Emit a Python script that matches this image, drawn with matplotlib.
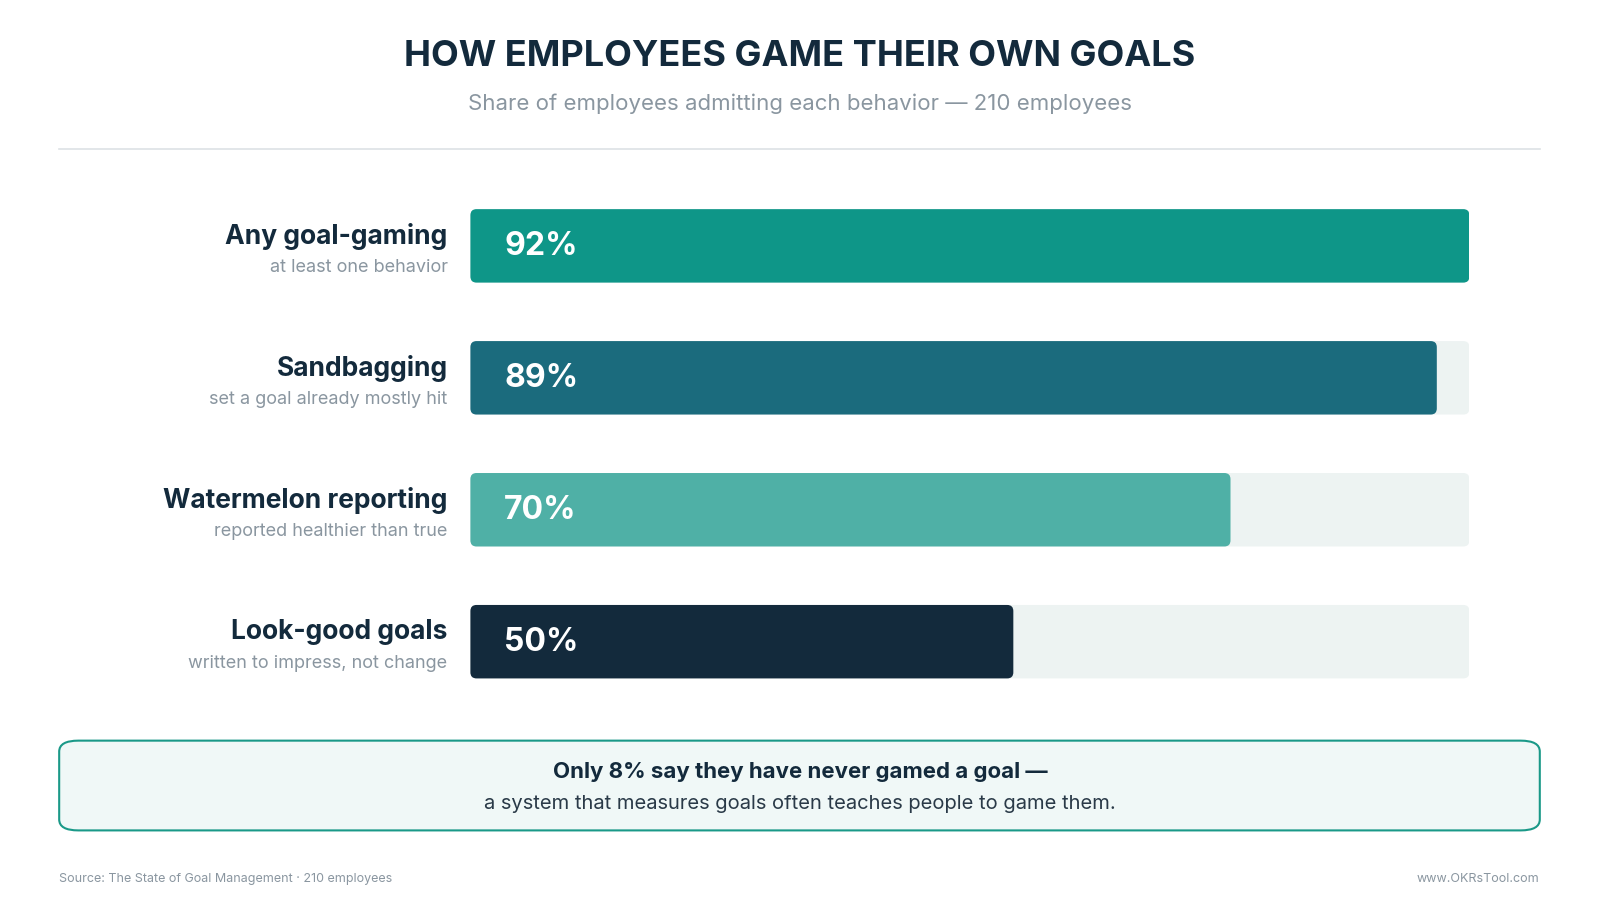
import matplotlib.pyplot as plt
from matplotlib.patches import FancyBboxPatch

plt.rcParams['font.family'] = ['Inter', 'DejaVu Sans']

LABELS = ["Any goal-gaming", "Sandbagging", "Watermelon reporting", "Look-good goals"]
SUBLABELS = ["at least one behavior", "set a goal already mostly hit",
             "reported healthier than true", "written to impress, not change"]
VALUES = [92, 89, 70, 50]
COLORS = ["#0e9688", "#1b6b7d", "#4fb0a6", "#132a3c"]

W, H = 1568.0, 894.0
DARK = "#132a3c"
GREY = "#8a96a0"


def fx(px):
    return px / W


def fy(py):
    return 1 - py / H


fig = plt.figure(figsize=(16, 9.12), dpi=100)
fig.patch.set_facecolor("white")

fig.text(0.5, fy(55), "HOW EMPLOYEES GAME THEIR OWN GOALS", ha="center", va="center",
         fontsize=26, fontweight="bold", color=DARK)
fig.text(0.5, fy(102), "Share of employees admitting each behavior \u2014 210 employees",
         ha="center", va="center", fontsize=16, color=GREY)
fig.add_artist(plt.Line2D([fx(58), fx(1509)], [fy(147), fy(147)], color="#dde2e5", lw=1.2))

# bar axes
top, bot = 242 - 64.67, 630 + 64.67
ax = fig.add_axes([fx(461), fy(bot), fx(1440) - fx(461), (bot - top) / H])
vmax = max(VALUES)
ax.set_xlim(0, vmax)
ax.set_ylim(len(VALUES) - 0.5, -0.5)
ax.axis("off")
h = 72 / 129.33
r = 0.56
asp = (6 / 129.33) / r
for i, (v, c) in enumerate(zip(VALUES, COLORS)):
    ax.add_patch(FancyBboxPatch((0, i - h / 2), vmax, h,
                                boxstyle=f"round,pad=0,rounding_size={r}",
                                mutation_aspect=asp, fc="#edf3f2", ec="none"))
    ax.add_patch(FancyBboxPatch((0, i - h / 2), v, h,
                                boxstyle=f"round,pad=0,rounding_size={r}",
                                mutation_aspect=asp, fc=c, ec="none"))
    ax.text(3.1, i, f"{v}%", ha="left", va="center", fontsize=23,
            fontweight="bold", color="white")
    ax.text(-2.1, i - 0.08, LABELS[i], ha="right", va="center", fontsize=19,
            fontweight="bold", color=DARK)
    ax.text(-2.1, i + 0.16, SUBLABELS[i], ha="right", va="center", fontsize=13,
            color=GREY)

# callout box
fig.add_artist(FancyBboxPatch((fx(58), fy(815)), fx(1509) - fx(58), (815 - 727) / H,
                              boxstyle="round,pad=0,rounding_size=0.012",
                              mutation_aspect=H / W * 1.75,
                              transform=fig.transFigure, fc="#f0f8f7", ec="#1a9988", lw=1.5))
fig.text(0.5, fy(757), "Only 8% say they have never gamed a goal \u2014", ha="center",
         va="center", fontsize=16, fontweight="bold", color=DARK)
fig.text(0.5, fy(788), "a system that measures goals often teaches people to game them.",
         ha="center", va="center", fontsize=14.5, color="#2a3a48")

fig.text(fx(58), fy(862), "Source: The State of Goal Management \u00b7 210 employees",
         ha="left", va="center", fontsize=9, color=GREY)
fig.text(fx(1509), fy(862), "www.OKRsTool.com", ha="right", va="center", fontsize=9, color=GREY)

fig.savefig("out.png", dpi=100, facecolor="white")
